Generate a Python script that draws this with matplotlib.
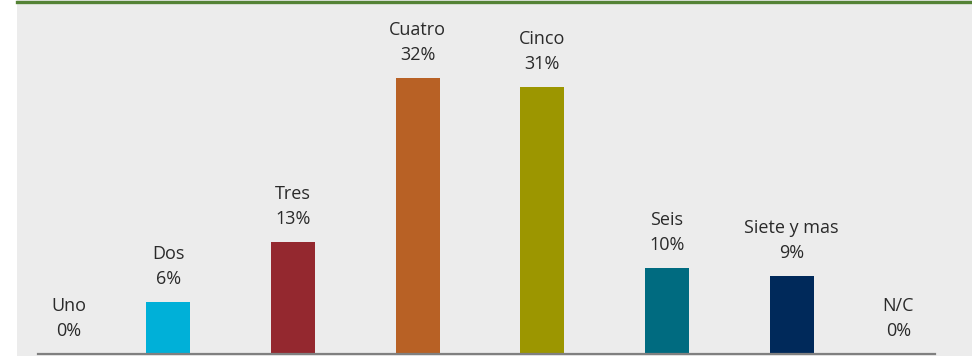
import matplotlib
matplotlib.use("Agg")
import matplotlib.pyplot as plt
from matplotlib.patches import Rectangle
from matplotlib.lines import Line2D

categories = ["Uno", "Dos", "Tres", "Cuatro", "Cinco", "Seis", "Siete y mas", "N/C"]
values = [0, 6, 13, 32, 31, 10, 9, 0]
colors = ["#00b0d8", "#00b0d8", "#94282f", "#b86125", "#9c9600",
          "#006b80", "#00295a", "#00295a"]

W, H, DPI = 972, 356, 100
fig = plt.figure(figsize=(W / DPI, H / DPI), dpi=DPI, facecolor="white")

# panel background and green top rule
fig.patches.append(Rectangle((17 / W, 0), 1 - 17 / W, 1, transform=fig.transFigure,
                             facecolor="#ececec", edgecolor="none", zorder=-2))
fig.lines.append(Line2D([17 / W, 1], [1 - 1.5 / H, 1 - 1.5 / H], transform=fig.transFigure,
                        color="#548235", linewidth=2.4, zorder=-1))

ax = fig.add_axes([38 / W, 2 / H, (935 - 38) / W, 352 / H])
ax.set_zorder(1)
ax.set_facecolor("none")

x = list(range(len(categories)))
ax.bar(x, values, width=0.353, color=colors, zorder=2)

ax.set_xlim(-0.044, 7.149)
ax.set_ylim(0, 40.82)
for s in ["top", "left", "right"]:
    ax.spines[s].set_visible(False)
ax.spines["bottom"].set_color("#808080")
ax.spines["bottom"].set_linewidth(1.6)
ax.spines["bottom"].set_zorder(3)
ax.set_xticks([])
ax.set_yticks([])

# edge labels for empty categories sit inside the panel
x_shift = {0: 0.2, 7: -0.145}
txt = dict(ha="center", va="center", fontsize=13, color="#2a2a2a",
           family="Open Sans", textcoords="offset points",
           annotation_clip=False)
for i, (c, v) in enumerate(zip(categories, values)):
    xi = i + x_shift.get(i, 0)
    ax.annotate(f"{v}%", (xi, v), xytext=(0, 16.6), **txt)
    ax.annotate(c, (xi, v), xytext=(0, 34.6), **txt)

fig.savefig("out.png", dpi=DPI, facecolor="white")
